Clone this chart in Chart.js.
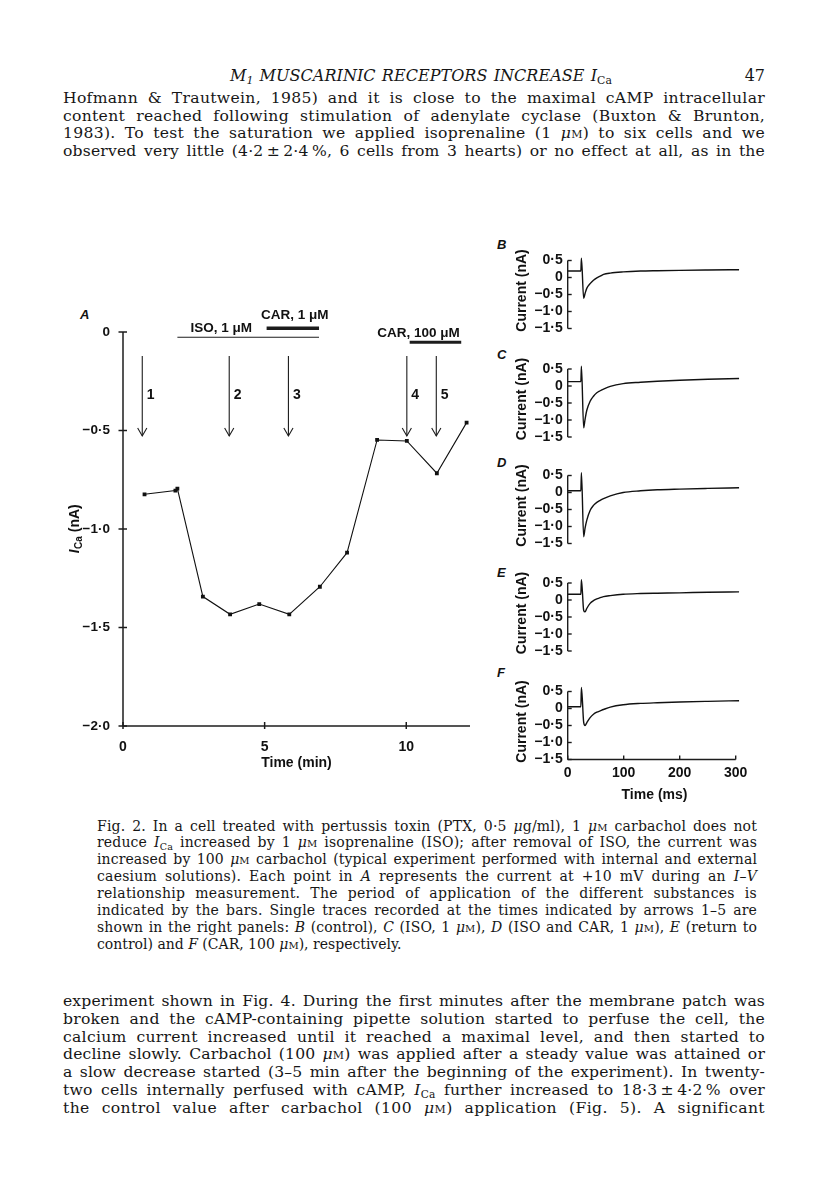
<!DOCTYPE html>
<html><head><meta charset="utf-8">
<script src="https://cdn.jsdelivr.net/npm/chart.js@4.4.0/dist/chart.umd.min.js"></script>
<style>
html,body{margin:0;padding:0;background:#fff}
body{width:816px;height:1200px;position:relative;overflow:hidden;color:#161616;font-family:"DejaVu Serif",serif}
.blk{position:absolute}
.jl{display:block;white-space:nowrap}
.sc{font-variant:small-caps}
sub{font-size:0.68em;vertical-align:-0.3em;line-height:0}
.lab{position:absolute;font:italic bold 13px "Liberation Sans",Arial,sans-serif;color:#111;line-height:14px}
canvas{position:absolute}
</style></head><body>

<div class="blk" style="left:230px;top:67px;font-size:16px;font-style:italic;line-height:18px"><span class="jl" data-w="382">M<sub>1</sub> MUSCARINIC RECEPTORS INCREASE I<sub style="font-style:normal">Ca</sub></span></div>
<div class="blk" style="right:51px;top:67px;font-size:16px;line-height:18px">47</div>

<div class="blk" style="left:63px;top:90px;width:702px;font-size:15.6px;line-height:17.7px">
<span class="jl" data-w="702">Hofmann &amp; Trautwein, 1985) and it is close to the maximal cAMP intracellular</span>
<span class="jl" data-w="702">content reached following stimulation of adenylate cyclase (Buxton &amp; Brunton,</span>
<span class="jl" data-w="702">1983). To test the saturation we applied isoprenaline (1 <i>μ</i><span class="sc">m</span>) to six cells and we</span>
<span class="jl" data-w="702">observed very little (4·2&#8201;±&#8201;2·4&#8201;%, 6 cells from 3 hearts) or no effect at all, as in the</span>
</div>

<div class="blk" style="left:97px;top:817.5px;width:660px;font-size:14px;line-height:16.9px">
<span class="jl" data-w="660">Fig. 2. In a cell treated with pertussis toxin (PTX, 0·5 <i>μ</i>g/ml), 1 <i>μ</i><span class="sc">m</span> carbachol does not</span>
<span class="jl" data-w="660">reduce <i>I</i><sub>Ca</sub> increased by 1 <i>μ</i><span class="sc">m</span> isoprenaline (ISO); after removal of ISO, the current was</span>
<span class="jl" data-w="660">increased by 100 <i>μ</i><span class="sc">m</span> carbachol (typical experiment performed with internal and external</span>
<span class="jl" data-w="660">caesium solutions). Each point in <i>A</i> represents the current at +10 mV during an <i>I–V</i></span>
<span class="jl" data-w="660">relationship measurement. The period of application of the different substances is</span>
<span class="jl" data-w="660">indicated by the bars. Single traces recorded at the times indicated by arrows 1–5 are</span>
<span class="jl" data-w="660">shown in the right panels: <i>B</i> (control), <i>C</i> (ISO, 1 <i>μ</i><span class="sc">m</span>), <i>D</i> (ISO and CAR, 1 <i>μ</i><span class="sc">m</span>), <i>E</i> (return to</span>
<span class="jl">control) and <i>F</i> (CAR, 100 <i>μ</i><span class="sc">m</span>), respectively.</span>
</div>

<div class="blk" style="left:63px;top:993px;width:702px;font-size:15.6px;line-height:17.8px">
<span class="jl" data-w="702">experiment shown in Fig. 4. During the first minutes after the membrane patch was</span>
<span class="jl" data-w="702">broken and the cAMP-containing pipette solution started to perfuse the cell, the</span>
<span class="jl" data-w="702">calcium current increased until it reached a maximal level, and then started to</span>
<span class="jl" data-w="702">decline slowly. Carbachol (100 <i>μ</i><span class="sc">m</span>) was applied after a steady value was attained or</span>
<span class="jl" data-w="702">a slow decrease started (3–5 min after the beginning of the experiment). In twenty-</span>
<span class="jl" data-w="702">two cells internally perfused with cAMP, <i>I</i><sub>Ca</sub> further increased to 18·3&#8201;±&#8201;4·2&#8201;% over</span>
<span class="jl" data-w="702">the control value after carbachol (100 <i>μ</i><span class="sc">m</span>) application (Fig. 5). A significant</span>
</div>

<div class="lab" style="left:80px;top:308px">A</div>
<div class="lab" style="left:497px;top:238px">B</div>
<div class="lab" style="left:497px;top:348px">C</div>
<div class="lab" style="left:497px;top:456px">D</div>
<div class="lab" style="left:497px;top:566px">E</div>
<div class="lab" style="left:497px;top:666px">F</div>

<canvas id="cA" width="450" height="500" style="left:30px;top:290px"></canvas>
<canvas id="cB" width="270" height="100" style="left:480px;top:242px"></canvas>
<canvas id="cC" width="270" height="100" style="left:480px;top:350px"></canvas>
<canvas id="cD" width="270" height="100" style="left:480px;top:457px"></canvas>
<canvas id="cE" width="270" height="100" style="left:480px;top:564px"></canvas>
<canvas id="cF" width="270" height="132" style="left:480px;top:673px"></canvas>

<script>
// ---------- DATA ----------
// Panel A: I_Ca vs time
const timeMin = [0.76, 1.85, 1.92, 2.82, 3.78, 4.81, 5.87, 6.95, 7.91, 8.97, 10.02, 11.08, 12.13];
const icaNA   = [-0.824, -0.805, -0.795, -1.343, -1.433, -1.381, -1.433, -1.293, -1.120, -0.548, -0.553, -0.717, -0.460];
const xTicksA = [0, 5, 10];
const yTicksA = [0, -0.5, -1.0, -1.5, -2.0];
const arrowTimes  = [0.68, 3.75, 5.84, 10.02, 11.06];
const arrowLabels = ['1', '2', '3', '4', '5'];
const barLabels = ['ISO, 1 μM', 'CAR, 1 μM', 'CAR, 100 μM'];
const barStart  = [1.92, 5.07, 10.12];
const barEnd    = [6.92, 6.92, 11.94];
// Panels B-F: single current traces
const traceMs = [0, 23.5, 24.5, 28.5, 31, 34, 40, 46, 52, 58, 64, 76, 99, 130, 160, 200, 250, 306];
const traceB = [0.19, 0.19, 0.57, -0.61, -0.47, -0.32, -0.18, -0.08, -0.01, 0.04, 0.09, 0.13, 0.165, 0.19, 0.20, 0.21, 0.22, 0.23];
const traceC = [0.13, 0.13, 0.58, -1.23, -0.98, -0.72, -0.45, -0.30, -0.20, -0.14, -0.09, -0.01, 0.07, 0.11, 0.14, 0.17, 0.20, 0.22];
const traceD = [0.05, 0.05, 0.58, -1.30, -1.05, -0.82, -0.53, -0.38, -0.29, -0.23, -0.18, -0.10, 0.00, 0.05, 0.08, 0.10, 0.12, 0.14];
const traceE = [0.17, 0.17, 0.60, -0.30, -0.35, -0.25, -0.10, -0.02, 0.03, 0.07, 0.10, 0.13, 0.17, 0.19, 0.20, 0.21, 0.23, 0.24];
const traceF = [0.05, 0.05, 0.62, -0.40, -0.50, -0.42, -0.27, -0.17, -0.11, -0.07, -0.03, 0.04, 0.11, 0.15, 0.17, 0.19, 0.21, 0.23];
const panelYTicks = [0.5, 0, -0.5, -1.0, -1.5];
const panelXTicks = [0, 100, 200, 300];

// ---------- text justification ----------
document.querySelectorAll('.jl').forEach(el => {
  const target = +el.dataset.w;
  if (!target) return;
  el.style.display = 'inline-block';
  const txt = el.textContent;
  const spaces = (txt.match(/ /g) || []).length || 1;
  const chars = txt.length;
  let w = el.getBoundingClientRect().width;
  let diff = target - w;
  el.style.letterSpacing = (diff * 0.3 / chars) + 'px';
  el.style.wordSpacing = (diff * 0.7 / spaces) + 'px';
  w = el.getBoundingClientRect().width;
  diff = target - w;
  const ws = parseFloat(el.style.wordSpacing) + diff / spaces;
  el.style.wordSpacing = ws + 'px';
  el.style.display = 'block';
});

// ---------- charts ----------
const FF = '"Liberation Sans", Arial, sans-serif';
Chart.defaults.font.family = FF;
Chart.defaults.color = '#111';
const tickFont = {family: FF, size: 14, weight: 'bold'};
function fmtA(v) { if (v === 0) return '0'; return (v < 0 ? '−' : '') + Math.abs(v).toFixed(1).replace('.', '·'); }
function seg(ctx, x1, y1, x2, y2) { ctx.beginPath(); ctx.moveTo(x1, y1); ctx.lineTo(x2, y2); ctx.stroke(); }

const annA = {
  id: 'annA',
  afterDraw(chart) {
    const {ctx, scales: {x, y}} = chart;
    const X = v => x.getPixelForValue(v), Y = v => y.getPixelForValue(v);
    ctx.save();
    ctx.strokeStyle = '#1c1c1c';
    ctx.fillStyle = '#111';
    ctx.lineWidth = 1.5;
    seg(ctx, X(0), Y(0), X(0), Y(-2));
    seg(ctx, X(0), Y(-2), X(x.max), Y(-2));
    yTicksA.forEach(v => seg(ctx, X(0) - 4.5, Y(v), X(0) + 4, Y(v)));
    xTicksA.forEach(v => seg(ctx, X(v), Y(-2) - 4, X(v), Y(-2) + 3));
    const barLevel = [-0.027, 0.019, -0.052];
    const barWidth = [1.1, 3.6, 3.2];
    barStart.forEach((s, i) => { ctx.lineWidth = barWidth[i]; seg(ctx, X(s), Y(barLevel[i]), X(barEnd[i]), Y(barLevel[i])); });
    const labPos = [[3.47, 0.02], [6.06, 0.086], [10.43, -0.005]];
    ctx.font = 'bold 13.5px ' + FF;
    ctx.textAlign = 'center'; ctx.textBaseline = 'middle';
    barLabels.forEach((t, i) => ctx.fillText(t, X(labPos[i][0]), Y(labPos[i][1])));
    ctx.lineWidth = 1.1;
    ctx.textAlign = 'left';
    ctx.font = 'bold 14px ' + FF;
    arrowTimes.forEach((t, i) => {
      const px = X(t), y1 = Y(-0.122), y2 = Y(-0.528);
      seg(ctx, px, y1, px, y2);
      ctx.beginPath(); ctx.moveTo(px - 4.6, y2 - 8); ctx.lineTo(px, y2); ctx.lineTo(px + 4.6, y2 - 8); ctx.stroke();
      ctx.fillText(arrowLabels[i], px + 4.5, Y(-0.32));
    });
    ctx.translate(X(0) - 48, Y(-1.0));
    ctx.rotate(-Math.PI / 2);
    const fI = 'italic bold 14px ' + FF, fS = 'bold 10px ' + FF, fR = 'bold 14px ' + FF;
    ctx.font = fI; const wI = ctx.measureText('I').width;
    ctx.font = fS; const wS = ctx.measureText('Ca').width;
    ctx.font = fR; const wR = ctx.measureText(' (nA)').width;
    let sx = -(wI + wS + wR) / 2;
    ctx.textBaseline = 'middle';
    ctx.font = fI; ctx.fillText('I', sx, 0); sx += wI + 0.5;
    ctx.font = fS; ctx.fillText('Ca', sx, 4); sx += wS;
    ctx.font = fR; ctx.fillText(' (nA)', sx, 0);
    ctx.restore();
  }
};

new Chart(document.getElementById('cA'), {
  type: 'line',
  data: {datasets: [{
    data: timeMin.map((t, i) => ({x: t, y: icaNA[i]})),
    borderColor: '#111', borderWidth: 1.1, tension: 0,
    pointStyle: 'rect', pointRadius: 2.7, pointBackgroundColor: '#111', pointBorderColor: '#111', pointBorderWidth: 0
  }]},
  options: {
    responsive: false, animation: false,
    layout: {padding: {left: 0, right: 10, top: 18.36, bottom: 0}},
    plugins: {legend: {display: false}, tooltip: {enabled: false}},
    scales: {
      x: {
        type: 'linear', min: 0, max: 12.25,
        afterBuildTicks: s => { s.ticks = xTicksA.map(v => ({value: v})); },
        afterFit: s => { s.height = 64; s.paddingLeft = 0; s.paddingRight = 0; },
        grid: {display: false, drawTicks: false}, border: {display: false},
        ticks: {font: tickFont, color: '#111', padding: 12.3, maxRotation: 0, autoSkip: false, callback: v => String(v)},
        title: {display: true, text: 'Time (min)', color: '#111', font: tickFont, padding: {top: 0, bottom: 18.9}}
      },
      y: {
        type: 'linear', min: -2, max: 0.12,
        afterBuildTicks: s => { s.ticks = yTicksA.map(v => ({value: v})); },
        afterFit: s => { s.width = 93; s.paddingTop = 0; s.paddingBottom = 0; },
        grid: {display: false, drawTicks: false}, border: {display: false},
        ticks: {font: {family: FF, size: 13.5, weight: 'bold'}, color: '#111', padding: 13, autoSkip: false, callback: v => fmtA(v)}
      }
    }
  },
  plugins: [annA]
});

const panelAxes = {
  id: 'panelAxes',
  afterDraw(chart, args, opts) {
    const {ctx, scales: {x, y}} = chart;
    const X = v => x.getPixelForValue(v), Y = v => y.getPixelForValue(v);
    ctx.save();
    ctx.strokeStyle = '#1c1c1c'; ctx.lineWidth = 1.4;
    seg(ctx, X(0), Y(0.5), X(0), Y(-1.5));
    panelYTicks.forEach(v => seg(ctx, X(0), Y(v), X(0) + 4, Y(v)));
    if (opts.xAxis) {
      seg(ctx, X(0), Y(-1.5), X(300), Y(-1.5));
      panelXTicks.forEach(v => seg(ctx, X(v), Y(-1.5), X(v), Y(-1.5) - 4));
    }
    ctx.fillStyle = '#111';
    ctx.translate(X(0) - 46, Y(-0.5) - 4);
    ctx.rotate(-Math.PI / 2);
    ctx.font = 'bold 14px ' + FF;
    ctx.textAlign = 'center'; ctx.textBaseline = 'middle';
    ctx.fillText('Current (nA)', 0, 0);
    ctx.restore();
  }
};

function panel(id, values, padTop, padBottom, withX) {
  new Chart(document.getElementById(id), {
    type: 'line',
    data: {datasets: [{
      data: traceMs.map((t, i) => ({x: t, y: values[i]})),
      borderColor: '#111', borderWidth: 1.4, pointRadius: 0, cubicInterpolationMode: 'monotone'
    }]},
    options: {
      responsive: false, animation: false,
      layout: {padding: {left: 0, right: 8.7, top: padTop, bottom: padBottom}},
      plugins: {legend: {display: false}, tooltip: {enabled: false}, panelAxes: {xAxis: withX}},
      scales: {
        x: {
          type: 'linear', min: 0, max: 310, display: withX,
          afterBuildTicks: s => { s.ticks = panelXTicks.map(v => ({value: v})); },
          afterFit: s => { s.height = withX ? 45.5 : 0; s.paddingLeft = 0; s.paddingRight = 0; },
          grid: {display: false, drawTicks: false}, border: {display: false},
          ticks: {font: tickFont, color: '#111', padding: 5.3, maxRotation: 0, autoSkip: false, callback: v => String(v)},
          title: {display: true, text: 'Time (ms)', color: '#111', font: tickFont, padding: {top: 0, bottom: 1.6}}
        },
        y: {
          type: 'linear', min: -1.5, max: 0.75,
          afterBuildTicks: s => { s.ticks = panelYTicks.map(v => ({value: v})); },
          afterFit: s => { s.width = 87.7; s.paddingTop = 0; s.paddingBottom = 0; },
          grid: {display: false, drawTicks: false}, border: {display: false},
          ticks: {font: tickFont, color: '#111', padding: 5, autoSkip: false, callback: v => fmtA(v)}
        }
      }
    },
    plugins: [panelAxes]
  });
}
panel('cB', traceB, 10, 13.5, false);
panel('cC', traceC, 10.5, 13, false);
panel('cD', traceD, 10, 13.5, false);
panel('cE', traceE, 10.5, 13, false);
panel('cF', traceF, 10, 0, true);
</script>
</body></html>
